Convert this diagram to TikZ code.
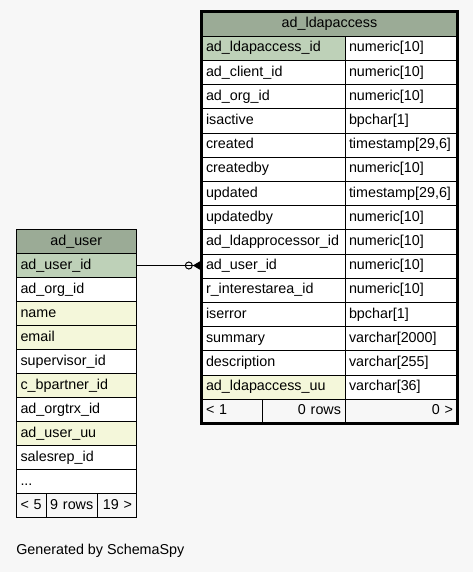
\documentclass[tikz,border=0pt]{standalone}
\usepackage{fontspec}
\setmainfont{Liberation Sans}
\usepackage{tikz}
\usetikzlibrary{arrows,arrows.meta}

\definecolor{hdrgreen}{HTML}{9BAB96}
\definecolor{pkgreen}{HTML}{BED1B8}
\definecolor{idxyellow}{HTML}{F4F7DA}
\definecolor{bggray}{HTML}{F7F7F7}

\tikzset{
	cell/.style={draw=black, line width=0.75pt, anchor=north west, inner xsep=3pt, inner ysep=0pt,
		minimum height=18.15pt, text height=7.7pt, text depth=2.4pt, fill=white,
		font=\fontsize{10.75}{12}\selectfont},
	hdrcell/.style={cell, fill=hdrgreen},
	keycol/.style={cell, text width=101.25pt, align=left},
	typecol/.style={cell, text width=78pt, align=left},
	usercol/.style={cell, minimum height=18pt, text width=83.625pt, align=left},
	footcell/.style={cell, fill=bggray},
	fk/.style={line width=0.75pt, -{Circle[open,length=6pt,width=6pt] Triangle[reversed,length=6.5pt,width=7.5pt]}}
}

\begin{document}
\begin{tikzpicture}[x=0.75pt,y=-0.75pt]
	%BACKGROUND
	\fill[bggray] (0,0) rectangle (473,572);
	\useasboundingbox (0,0) rectangle (473,572);
	
	%TABLE ad_ldapaccess
	\node[hdrcell, minimum width=191.25pt] (lhdr) at (201.5,11.5) {ad\_ldapaccess};
	\node[keycol, fill=pkgreen] (lk0) at (201.5,35.7)  {ad\_ldapaccess\_id};
	\node[typecol] (lt0) at (344.5,35.7)  {numeric[10]};
	\node[keycol] (lk1) at (201.5,59.9)  {ad\_client\_id};
	\node[typecol] (lt1) at (344.5,59.9)  {numeric[10]};
	\node[keycol] (lk2) at (201.5,84.1)  {ad\_org\_id};
	\node[typecol] (lt2) at (344.5,84.1)  {numeric[10]};
	\node[keycol] (lk3) at (201.5,108.3) {isactive};
	\node[typecol] (lt3) at (344.5,108.3) {bpchar[1]};
	\node[keycol] (lk4) at (201.5,132.5) {created};
	\node[typecol] (lt4) at (344.5,132.5) {timestamp[29,6]};
	\node[keycol] (lk5) at (201.5,156.7) {createdby};
	\node[typecol] (lt5) at (344.5,156.7) {numeric[10]};
	\node[keycol] (lk6) at (201.5,180.9) {updated};
	\node[typecol] (lt6) at (344.5,180.9) {timestamp[29,6]};
	\node[keycol] (lk7) at (201.5,205.1) {updatedby};
	\node[typecol] (lt7) at (344.5,205.1) {numeric[10]};
	\node[keycol] (lk8) at (201.5,229.3) {ad\_ldapprocessor\_id};
	\node[typecol] (lt8) at (344.5,229.3) {numeric[10]};
	\node[keycol] (lk9) at (201.5,253.5) {ad\_user\_id};	%fk target
	\node[typecol] (lt9) at (344.5,253.5) {numeric[10]};
	\node[keycol] (lk10) at (201.5,277.7) {r\_interestarea\_id};
	\node[typecol] (lt10) at (344.5,277.7) {numeric[10]};
	\node[keycol] (lk11) at (201.5,301.9) {iserror};
	\node[typecol] (lt11) at (344.5,301.9) {bpchar[1]};
	\node[keycol] (lk12) at (201.5,326.1) {summary};
	\node[typecol] (lt12) at (344.5,326.1) {varchar[2000]};
	\node[keycol] (lk13) at (201.5,350.3) {description};
	\node[typecol] (lt13) at (344.5,350.3) {varchar[255]};
	\node[keycol, fill=idxyellow] (lk14) at (201.5,374.5) {ad\_ldapaccess\_uu};
	\node[typecol] (lt14) at (344.5,374.5) {varchar[36]};
	%
	\node[footcell, text width=39.375pt, align=left]  (lf1) at (201.5,398.7) {< 1};
	\node[footcell, text width=55.875pt, align=right] (lf2) at (262,398.7)   {0 rows};
	\node[footcell, text width=78pt, align=right]     (lf3) at (344.5,398.7) {0 >};
	\draw[line width=2.25pt] (lhdr.north west) rectangle (lf3.south east);	%thick outline
	
	%TABLE ad_user
	\node[hdrcell, usercol, fill=hdrgreen, align=center] (uhdr) at (16,229) {ad\_user};
	\node[usercol, fill=pkgreen]   (u0) at (16,253) {ad\_user\_id};
	\node[usercol]                 (u1) at (16,277) {ad\_org\_id};
	\node[usercol, fill=idxyellow] (u2) at (16,301) {name};
	\node[usercol, fill=idxyellow] (u3) at (16,325) {email};
	\node[usercol]                 (u4) at (16,349) {supervisor\_id};
	\node[usercol, fill=idxyellow] (u5) at (16,373) {c\_bpartner\_id};
	\node[usercol]                 (u6) at (16,397) {ad\_orgtrx\_id};
	\node[usercol, fill=idxyellow] (u7) at (16,421) {ad\_user\_uu};
	\node[usercol]                 (u8) at (16,445) {salesrep\_id};
	\node[usercol]                 (u9) at (16,469) {...};
	%
	\node[footcell, minimum height=18pt, text width=16.125pt, align=left]   (uf1) at (16,493) {< 5};
	\node[footcell, minimum height=18pt, text width=32.625pt, align=center] (uf2) at (45.5,493) {9 rows};
	\node[footcell, minimum height=18pt, text width=22.875pt, align=right]  (uf3) at (97,493) {19 >};
	
	%FOREIGN KEY
	\draw[fk] (u0.east) -- (u0.east -| lk9.west);
	
	%LABELS
	\node[anchor=west, inner sep=0pt, font=\fontsize{10.75}{12}\selectfont] (gen) at (16,551) {Generated by SchemaSpy};
\end{tikzpicture}
\end{document}
